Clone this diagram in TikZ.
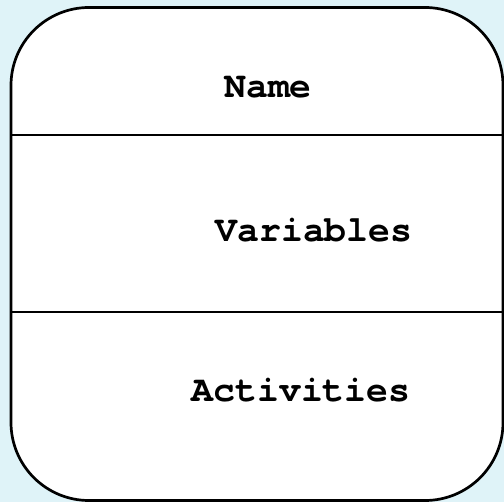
\documentclass[tikz,border=0pt]{standalone}
\usepackage{fontspec}
\setmonofont{TeX Gyre Cursor}
\definecolor{bgcyan}{RGB}{223,243,248}
\tikzset{
  frame/.style={draw=black, line width=2.7pt, fill=white, rounded corners=78pt},
  divider/.style={draw=black, line width=2.5pt},
  label/.style={font=\ttfamily\bfseries\fontsize{36.5}{36.5}\selectfont, anchor=base, inner sep=0pt}
}
\begin{document}
\begin{tikzpicture}[x=1pt, y=-1pt]
  % page and background
  \fill[bgcyan] (0,0) rectangle (504,502);
  \useasboundingbox (0,0) rectangle (504,502);
  % class box
  \path[frame] (11,7.5) rectangle (503,500.5);
  \coordinate (l1) at (11,135);
  \coordinate (r1) at (503,135);
  \coordinate (l2) at (11,312);
  \coordinate (r2) at (503,312);
  \draw[divider] (l1) -- (r1);
  \draw[divider] (l2) -- (r2);
  % compartment labels
  \node[label] (name) at (268,98) {Name};
  \node[label] (vars) at (314,242) {Variables};
  \node[label] (acts) at (301,402) {Activities};
\end{tikzpicture}
\end{document}
